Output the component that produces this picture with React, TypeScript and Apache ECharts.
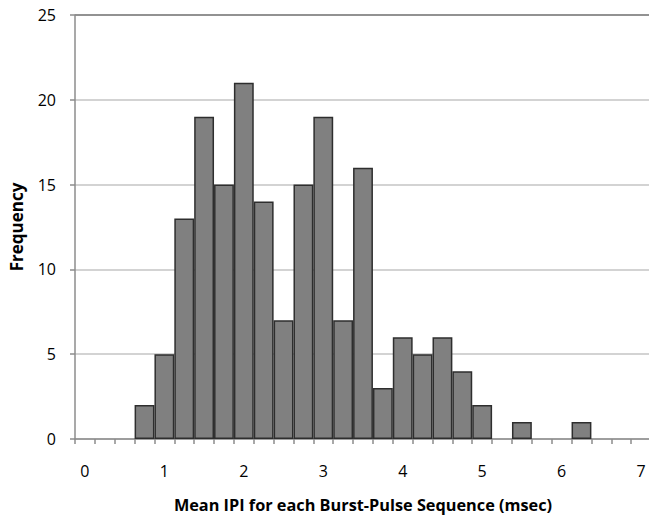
import React, { useEffect, useRef } from "react";
import * as echarts from "echarts";

const categories: string[] = [
  "0", "0.25", "0.5", "0.75", "1", "1.25", "1.5", "1.75", "2", "2.25", "2.5", "2.75",
  "3", "3.25", "3.5", "3.75", "4", "4.25", "4.5", "4.75", "5", "5.25", "5.5", "5.75",
  "6", "6.25", "6.5", "6.75", "7",
];
const frequency: number[] = [
  0, 0, 0, 2, 5, 13, 19, 15, 21, 14, 7, 15,
  19, 7, 16, 3, 6, 5, 6, 4, 2, 0, 1, 0,
  0, 1, 0, 0, 0,
];
const yTicks = { min: 0, max: 25, interval: 5 };

const FONT = "'Open Sans', sans-serif";

export default function App() {
  const ref = useRef<HTMLDivElement>(null);
  useEffect(() => {
    document.body.style.margin = "0";
    if (!ref.current) return;
    const chart = echarts.init(ref.current, undefined, { renderer: "svg" });
    chart.setOption({
      animation: false,
      backgroundColor: "#ffffff",
      grid: { left: 75, top: 15, right: -2, bottom: 78, containLabel: false, outerBoundsMode: "none" },
      xAxis: {
        type: "category",
        data: categories,
        name: "Mean IPI for each Burst-Pulse Sequence (msec)",
        nameLocation: "middle",
        nameGap: 58,
        nameTextStyle: { fontFamily: FONT, fontWeight: "bold", fontSize: 16.3, color: "#000" },
        axisLine: { show: true, lineStyle: { color: "#8c8c8c", width: 1.5 } },
        axisTick: { show: true, interval: 0, alignWithLabel: false, length: 5, lineStyle: { color: "#8c8c8c", width: 1.5 } },
        axisLabel: {
          interval: 3,
          margin: 24,
          fontFamily: FONT,
          fontSize: 16,
          color: "#000",
          formatter: (v: string) => String(Math.round(Number(v))),
        },
        splitLine: { show: false },
      },
      yAxis: {
        type: "value",
        min: yTicks.min,
        max: yTicks.max,
        interval: yTicks.interval,
        name: "Frequency",
        nameLocation: "middle",
        nameGap: 50,
        nameRotate: 90,
        nameTextStyle: { fontFamily: FONT, fontWeight: "bold", fontSize: 17, color: "#000" },
        axisLine: { show: true, lineStyle: { color: "#8c8c8c", width: 1.5 } },
        axisTick: { show: true, length: 5, lineStyle: { color: "#8c8c8c", width: 1.5 } },
        axisLabel: { margin: 19, fontFamily: FONT, fontSize: 16, color: "#000" },
        splitLine: {
          show: true,
          lineStyle: { color: ["#c4c4c4", "#c4c4c4", "#c4c4c4", "#c4c4c4", "#c4c4c4", "#6e6e6e"], width: 1.5 },
        },
      },
      series: [
        {
          type: "bar",
          data: frequency.map((v) => (v === 0 ? "-" : v)),
          barCategoryGap: "0%",
          itemStyle: { color: "#808080", borderColor: "#2e2e2e", borderWidth: 1.5 },
        },
      ],
    });
    return () => chart.dispose();
  }, []);
  return <div ref={ref} style={{ width: 649, height: 517 }} />;
}
